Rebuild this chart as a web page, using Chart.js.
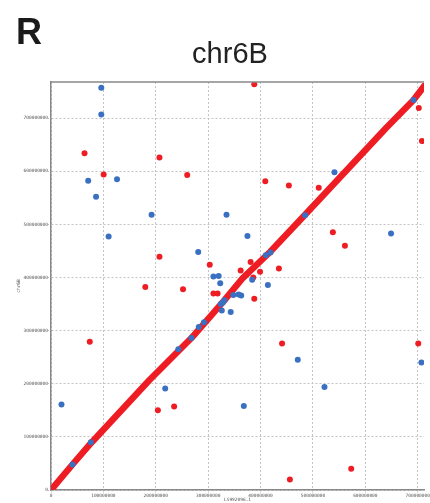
<!DOCTYPE html>
<html>
<head>
<meta charset="utf-8">
<script src="https://cdn.jsdelivr.net/npm/chart.js@4/dist/chart.umd.min.js"></script>
<style>
  html, body { margin: 0; padding: 0; background: #fff; }
  #wrap { width: 430px; height: 503px; }
</style>
</head>
<body>
<div id="wrap"><canvas id="dotplot"></canvas></div>
<script>
// positions in Mb
let panel = "R";
let title = "chr6B";
let xTitle = "LS992096.1";
let yTitle = "chr6B";

// main synteny diagonal (knots)
let diagX = [0, 41, 77, 188, 268, 330, 366, 418, 484, 640, 692, 712];
let diagY = [0, 48, 89, 207, 286, 356, 399, 448, 517, 682, 734, 760];

// scattered red hits
let redX = [64, 100.5, 207, 260, 207, 303, 388, 702, 708, 409, 454, 511, 538, 561, 381, 435, 362, 399, 386, 74, 180, 252, 310, 318, 388, 204, 235, 441, 701, 573, 456];
let redY = [634, 594, 626, 593, 439, 424, 764, 719, 657, 581, 573, 569, 485, 460, 429, 417, 413, 411, 400, 279, 382, 378, 370, 370, 360, 150, 157, 276, 276, 40, 20];

// blue hits
let blueX = [96, 96, 71, 126, 86, 192, 335, 110, 281, 310, 320, 692, 541, 485, 375, 649, 410, 419, 384, 323, 414, 348, 358, 363, 331, 328, 324, 326, 343, 282, 292, 268, 243, 218, 20, 76, 41, 471, 707, 522, 368];
let blueY = [757, 707, 582, 585, 552, 518, 518, 477, 448, 402, 403, 734, 598, 517, 478, 483, 442, 447, 396, 389, 386, 367, 368, 366, 357, 353, 350, 338, 335, 307, 316, 286, 265, 191, 161, 90, 48, 245, 240, 194, 158];

let xMax = 712;
let yMax = 768;
let step = 100;

const RED = "#ee1d23";
const BLUE = "#3a70c2";

function pts(xs, ys) {
  return xs.map((x, i) => ({ x: x, y: ys[i] }));
}

const frame = {
  id: "frame",
  afterDraw(chart) {
    const ctx = chart.ctx;
    const a = chart.chartArea;
    ctx.save();
    ctx.strokeStyle = "#888";
    ctx.lineWidth = 1.5;
    ctx.beginPath();
    ctx.moveTo(a.left, a.top);
    ctx.lineTo(a.right, a.top);
    ctx.stroke();
    ctx.fillStyle = "#1a1a1a";
    ctx.font = "bold 36px 'Liberation Sans', Arial, sans-serif";
    ctx.textAlign = "left";
    ctx.textBaseline = "alphabetic";
    ctx.fillText(panel, 16, 44);
    ctx.fillStyle = "#222";
    ctx.font = "29px 'Liberation Sans', Arial, sans-serif";
    ctx.textAlign = "center";
    ctx.fillText(title, 230, 63);
    ctx.restore();
  }
};

const tickFont = { family: "'DejaVu Sans Mono', monospace", size: 4.5 };

new Chart(document.getElementById("dotplot"), {
  type: "scatter",
  plugins: [frame],
  data: {
    datasets: [
      {
        label: "blue",
        data: pts(blueX, blueY),
        backgroundColor: BLUE,
        borderWidth: 0,
        pointRadius: 3,
        order: 0,
      },
      {
        label: "red",
        data: pts(redX, redY),
        backgroundColor: RED,
        borderWidth: 0,
        pointRadius: 3,
        order: 1,
      },
      {
        label: "diagonal",
        data: pts(diagX, diagY),
        showLine: true,
        borderColor: RED,
        borderWidth: 6.5,
        pointRadius: 0,
        borderCapStyle: "round",
        borderJoinStyle: "round",
        order: 2,
      },
    ],
  },
  options: {
    responsive: true,
    maintainAspectRatio: false,
    animation: false,
    events: [],
    layout: { padding: { top: 82, right: 0, bottom: 0, left: 0 } },
    plugins: {
      legend: { display: false },
      title: { display: false },
      tooltip: { enabled: false },
    },
    scales: {
      x: {
        type: "linear",
        min: 0,
        max: xMax,
        afterFit: (s) => { s.height = 13; },
        ticks: {
          stepSize: step,
          includeBounds: false,
          maxRotation: 0,
          autoSkip: false,
          padding: 0,
          color: "#555",
          font: tickFont,
          callback: (v) => String(v * 1000000),
        },
        grid: { color: "#c4c4c4", tickColor: "#bbb", tickBorderDash: [1, 1], tickLength: 3 },
        border: { color: "#888", width: 1.5, dash: [2, 2] },
        title: { display: true, text: xTitle, color: "#555", font: tickFont, padding: { top: 3, bottom: 0 } },
      },
      y: {
        type: "linear",
        min: 0,
        max: yMax,
        afterFit: (s) => { s.width = 51; },
        ticks: {
          stepSize: step,
          includeBounds: false,
          autoSkip: false,
          padding: 0,
          color: "#555",
          font: tickFont,
          callback: (v) => String(v * 1000000),
        },
        grid: { color: "#c4c4c4", tickColor: "#bbb", tickBorderDash: [1, 1], tickLength: 3 },
        border: { color: "#888", width: 1.5, dash: [2, 2] },
        title: { display: true, text: yTitle, color: "#555", font: tickFont, padding: { top: 16, bottom: 0 } },
      },
    },
  },
});
</script>
</body>
</html>
